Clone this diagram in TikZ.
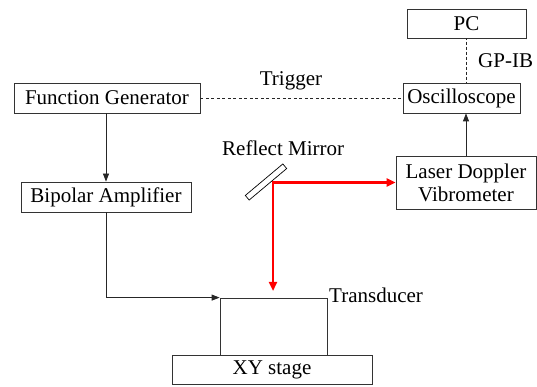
\documentclass[tikz,border=0pt]{standalone}
\usepackage{fontspec}
\setmainfont{Liberation Serif}
\usetikzlibrary{arrows.meta}
\begin{document}
\begin{tikzpicture}[x=1pt,y=1pt,
  box/.style={draw=black!80, line width=0.8pt, inner sep=0pt, align=center,
    font=\rmfamily\fontsize{21}{23}\selectfont},
  lbl/.style={inner sep=0pt, font=\rmfamily\fontsize{21}{23}\selectfont},
  conn/.style={draw=black!85, line width=0.8pt},
  tip/.style={-{Triangle[length=8pt,width=6pt]}},
  redtip/.style={{Triangle[length=9pt,width=8pt]}-{Triangle[length=9pt,width=8pt]}}
]
\useasboundingbox (0,0) rectangle (537,387);
\node[box, minimum width=119pt, minimum height=29pt] (pc) at (466.5,363.5) {PC};
\node[box, minimum width=186pt, minimum height=30pt] (fg) at (107,289) {Function Generator};
\node[box, minimum width=117pt, minimum height=30pt] (osc) at (461.5,289) {Oscilloscope};
\node[box, minimum width=140pt, minimum height=53pt] (ldv) at (466,204.5) {Laser Doppler\\Vibrometer};
\node[box, minimum width=170pt, minimum height=30pt] (ba) at (106,190) {Bipolar Amplifier};
\node[box, minimum width=107pt, minimum height=57pt] (tr) at (273.5,60.5) {};
\node[box, minimum width=200pt, minimum height=29pt] (xy) at (272,17.5) {XY stage};
\node[draw=black, line width=0.7pt, minimum width=49pt, minimum height=6pt, inner sep=0pt, rotate=40] (mirror) at (266,205) {};

\node[lbl] (trig) at (291,306) {Trigger};
\node[lbl, anchor=west] (gpib) at (478,326) {GP-IB};
\node[lbl, anchor=west] (rm) at (222,239) {Reflect Mirror};
\node[lbl, anchor=west] (trl) at (329,92) {Transducer};

\coordinate (rstart) at (273,96);

\draw[conn, tip] (fg.south -| ba.north) -- (ba.north);
\draw[conn, tip] (ba.south) |- (tr.north west);
\draw[conn, tip] (ldv.north) -- (ldv.north |- osc.south);
\draw[conn, dash pattern=on 2pt off 1.2pt on 0.6pt off 1.2pt] (pc.south -| ldv.north) -- (ldv.north |- osc.north);
\draw[conn, dash pattern=on 3pt off 2.5pt] (fg.east) -- (osc.west);
\draw[red, line width=2.2pt, redtip] (rstart) |- (ldv.west);
\end{tikzpicture}
\end{document}
